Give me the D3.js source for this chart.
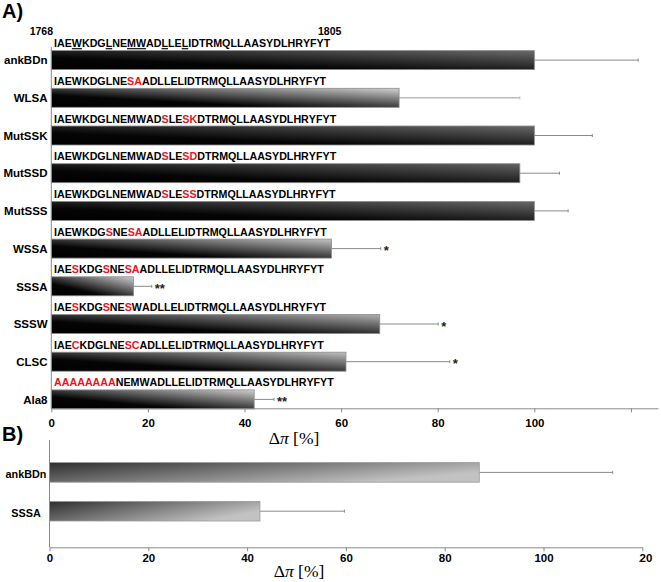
<!DOCTYPE html>
<html><head><meta charset="utf-8">
<script src="https://cdn.jsdelivr.net/npm/d3@7"></script>
<style>body{margin:0;background:#fff}svg{display:block}</style>
</head><body>
<script>
// ---------- data ----------
const categoriesA = ["ankBDn","WLSA","MutSSK","MutSSD","MutSSS","WSSA","SSSA","SSSW","CLSC","Ala8"];
const valuesA     = [100, 72, 100, 97, 100, 58, 17, 68, 61, 42];
const errorsA     = [21.5, 25, 12, 8.2, 7, 10.2, 3.8, 12.1, 21.5, 4.1];
const significanceA = ["", "", "", "", "", "*", "**", "*", "*", "**"];
// lowercase letters = mutated residues (shown in red)
const sequencesA = [
  "IAEWKDGLNEMWADLLELIDTRMQLLAASYDLHRYFYT",
  "IAEWKDGLNEsaADLLELIDTRMQLLAASYDLHRYFYT",
  "IAEWKDGLNEMWADsLEskDTRMQLLAASYDLHRYFYT",
  "IAEWKDGLNEMWADsLEsdDTRMQLLAASYDLHRYFYT",
  "IAEWKDGLNEMWADsLEssDTRMQLLAASYDLHRYFYT",
  "IAEWKDGsNEsaADLLELIDTRMQLLAASYDLHRYFYT",
  "IAEsKDGsNEsaADLLELIDTRMQLLAASYDLHRYFYT",
  "IAEsKDGsNEsWADLLELIDTRMQLLAASYDLHRYFYT",
  "IAEcKDGLNEscADLLELIDTRMQLLAASYDLHRYFYT",
  "aaaaaaaaNEMWADLLELIDTRMQLLAASYDLHRYFYT"
];
const underlinedWT = [3, 7, 10, 11, 14, 17];
const residueStart = "1768", residueEnd = "1805";
const ticksA = [0, 20, 40, 60, 80, 100, 120];

const categoriesB = ["ankBDn", "SSSA"];
const valuesB = [87, 42.6];
const errorsB = [27, 17.1];
const ticksB = [0, 20, 40, 60, 80, 100, 120];

// ---------- styles ----------
const endShadeA = {ankBDn:"#6a6a6a", WLSA:"#d2d2d2", MutSSK:"#686868", MutSSD:"#626262", MutSSS:"#686868",
                   WSSA:"#c4c4c4", SSSA:"#cfcfcf", SSSW:"#b0b0b0", CLSC:"#c0c0c0", Ala8:"#d0d0d0"};
const errColA = {WLSA: "#bdbdbd"};
const axisCol = "#8a8a8a";
const sans = "'Liberation Sans', Arial, sans-serif";
const serif = "'Liberation Serif', 'Times New Roman', serif";

const svg = d3.select("body").append("svg").attr("width", 661).attr("height", 582);
const defs = svg.append("defs");

// ---------- panel A ----------
const xA = d3.scaleLinear().domain([0, 125.6]).range([51.3, 658]);
const yA = d3.scaleBand().domain(categoriesA).range([31.9, 408.9]).padding(0);
const barH = 19;

categoriesA.forEach((c, i) => {
  const g = defs.append("linearGradient").attr("id", "gA" + i)
    .attr("x1", 0).attr("y1", 1).attr("x2", 1).attr("y2", 0);
  g.append("stop").attr("offset", 0).attr("stop-color", "#000");
  g.append("stop").attr("offset", 0.32).attr("stop-color", "#050505");
  g.append("stop").attr("offset", 1).attr("stop-color", endShadeA[c]);
});

const gA = svg.append("g");
const rowsA = categoriesA.map((c, i) => ({c, i, v: valuesA[i], e: errorsA[i], s: significanceA[i], seq: sequencesA[i]}));
const barTop = d => yA(d.c) + yA.bandwidth() - barH;
const barMid = d => barTop(d) + barH / 2;

// error bars
gA.selectAll("line.err").data(rowsA).join("line")
  .attr("x1", d => xA(d.v)).attr("x2", d => xA(d.v + d.e))
  .attr("y1", barMid).attr("y2", barMid)
  .attr("stroke", d => errColA[d.c] || axisCol).attr("stroke-width", d => errColA[d.c] ? 1.5 : 1);
gA.selectAll("line.cap").data(rowsA).join("line")
  .attr("x1", d => xA(d.v + d.e)).attr("x2", d => xA(d.v + d.e))
  .attr("y1", d => barMid(d) - 1.5).attr("y2", d => barMid(d) + 1.5)
  .attr("stroke", d => errColA[d.c] || axisCol).attr("stroke-width", 1);

// bars
gA.selectAll("rect").data(rowsA).join("rect")
  .attr("x", xA(0)).attr("y", barTop)
  .attr("width", d => xA(d.v) - xA(0)).attr("height", barH)
  .attr("fill", d => `url(#gA${d.i})`)
  .attr("stroke", "#8c8c8c").attr("stroke-width", 0.8);

// significance
gA.selectAll("text.sig").data(rowsA.filter(d => d.s)).join("text")
  .attr("x", d => xA(d.v + d.e) + 3).attr("y", d => barMid(d) + 6.5)
  .attr("font-family", sans).attr("font-weight", "bold").attr("font-size", 13)
  .attr("fill", "#222").text(d => d.s);

// sequences
rowsA.forEach(d => {
  const t = gA.append("text")
    .attr("transform", `translate(54,${barTop(d) - 3.5}) scale(0.93,1)`)
    .attr("font-family", sans).attr("font-weight", "bold").attr("font-size", 11.5);
  [...d.seq].forEach((ch, k) => {
    const mut = ch !== ch.toUpperCase();
    const ts = t.append("tspan").text(ch.toUpperCase()).attr("fill", mut ? "#e8141c" : "#000");
    if (d.i === 0 && underlinedWT.includes(k)) ts.attr("text-decoration", "underline");
  });
});

// residue numbers
gA.append("text").attr("x", 53).attr("y", 35).attr("text-anchor", "end")
  .attr("font-family", sans).attr("font-weight", "bold").attr("font-size", 10.5).text(residueStart);
gA.append("text").attr("x", 318).attr("y", 35)
  .attr("font-family", sans).attr("font-weight", "bold").attr("font-size", 10.5).text(residueEnd);

// category labels
gA.selectAll("text.cat").data(rowsA).join("text")
  .attr("x", 47.5).attr("y", d => barMid(d) + 4.2).attr("text-anchor", "end")
  .attr("font-family", sans).attr("font-weight", "bold").attr("font-size", 11.5).text(d => d.c);

// axes
gA.append("line").attr("x1", xA(0)).attr("x2", xA(0)).attr("y1", 47).attr("y2", 408.3)
  .attr("stroke", axisCol);
const axA = gA.append("g").attr("transform", "translate(0,408.3)")
  .call(d3.axisBottom(xA).tickValues(ticksA).tickSize(4).tickSizeOuter(0)
    .tickFormat(d => d === 120 ? "" : d));
axA.select(".domain").attr("stroke", axisCol);
axA.selectAll(".tick line").attr("stroke", axisCol);
axA.selectAll(".tick text").attr("font-family", sans).attr("font-weight", "bold")
  .attr("font-size", 11.5).attr("fill", "#000").attr("dy", null).attr("y", 18.4);
const titleA = gA.append("text").attr("x", 294).attr("y", 444).attr("text-anchor", "middle")
  .attr("font-family", serif).attr("font-size", 17.5);
titleA.append("tspan").text("Δ");
titleA.append("tspan").attr("font-style", "italic").text("π");
titleA.append("tspan").text(" [%]");
svg.append("text").attr("x", 2).attr("y", 18).attr("font-family", sans)
  .attr("font-weight", "bold").attr("font-size", 20).text("A)");

// ---------- panel B ----------
const xB = d3.scaleLinear().domain([0, 120]).range([49.5, 642.3]);
const yB = d3.scaleBand().domain(categoriesB).range([453, 530.6]).padding(0);
const barHB = 19.6;
const gB = svg.append("g");
const gradB = defs.append("linearGradient").attr("id", "gB")
  .attr("x1", 0).attr("y1", 0).attr("x2", 1).attr("y2", 0.5);
gradB.append("stop").attr("offset", 0).attr("stop-color", "#2e2e2e");
gradB.append("stop").attr("offset", 1).attr("stop-color", "#c2c2c2");

const rowsB = categoriesB.map((c, i) => ({c, v: valuesB[i], e: errorsB[i]}));
const midB = d => yB(d.c) + yB.bandwidth() / 2;
gB.selectAll("line.err").data(rowsB).join("line")
  .attr("x1", d => xB(d.v)).attr("x2", d => xB(d.v + d.e))
  .attr("y1", midB).attr("y2", midB).attr("stroke", axisCol);
gB.selectAll("line.cap").data(rowsB).join("line")
  .attr("x1", d => xB(d.v + d.e)).attr("x2", d => xB(d.v + d.e))
  .attr("y1", d => midB(d) - 1.5).attr("y2", d => midB(d) + 1.5).attr("stroke", axisCol);
gB.selectAll("rect").data(rowsB).join("rect")
  .attr("x", xB(0)).attr("y", d => midB(d) - barHB / 2)
  .attr("width", d => xB(d.v) - xB(0)).attr("height", barHB)
  .attr("fill", "url(#gB)").attr("stroke", "#999").attr("stroke-width", 0.8);
gB.selectAll("text.cat").data(rowsB).join("text")
  .attr("x", 26).attr("y", d => midB(d) + 5.5).attr("text-anchor", "middle")
  .attr("font-family", sans).attr("font-weight", "bold").attr("font-size", 10.8).text(d => d.c);

gB.append("line").attr("x1", xB(0)).attr("x2", xB(0)).attr("y1", 440).attr("y2", 547.3)
  .attr("stroke", axisCol);
const axB = gB.append("g").attr("transform", "translate(0,547.3)")
  .call(d3.axisBottom(xB).tickValues(ticksB).tickSize(4).tickSizeOuter(0));
axB.select(".domain").attr("stroke", axisCol);
axB.selectAll(".tick line").attr("stroke", axisCol);
axB.selectAll(".tick text").attr("font-family", sans).attr("font-weight", "bold")
  .attr("font-size", 11.5).attr("fill", "#000").attr("dy", null).attr("y", 14.4);
// last tick label is cut at the right edge in the original
const lastX = xB(120);
defs.append("clipPath").attr("id", "clipB2t").append("rect")
  .attr("x", 638.5 - lastX).attr("y", -10).attr("width", 40).attr("height", 40);
axB.selectAll(".tick").filter(d => d === 120).select("text").attr("clip-path", "url(#clipB2t)");

const titleB = gB.append("text").attr("x", 299).attr("y", 576.5).attr("text-anchor", "middle")
  .attr("font-family", serif).attr("font-size", 17.5);
titleB.append("tspan").text("Δ");
titleB.append("tspan").attr("font-style", "italic").text("π");
titleB.append("tspan").text(" [%]");
svg.append("text").attr("x", 2).attr("y", 441).attr("font-family", sans)
  .attr("font-weight", "bold").attr("font-size", 20).text("B)");
</script>
</body></html>
